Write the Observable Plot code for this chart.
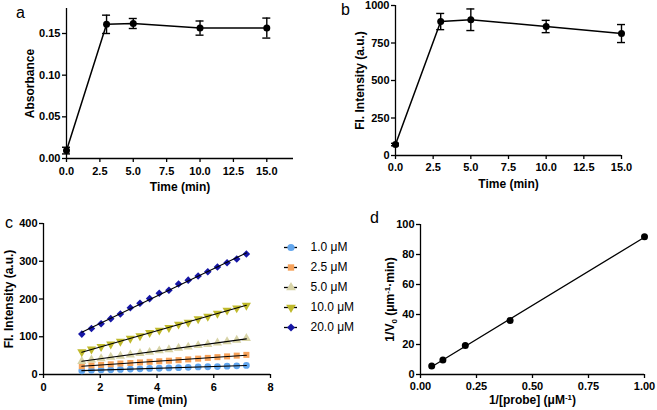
<!DOCTYPE html>
<html><head><meta charset="utf-8">
<script src="https://cdn.jsdelivr.net/npm/d3@7"></script>
<script src="https://cdn.jsdelivr.net/npm/@observablehq/plot@0.6"></script>
<style>
body{margin:0;background:#fff}
#wrap{position:relative;width:657px;height:410px;overflow:hidden;background:#fff;font-family:"Liberation Sans",Arial,sans-serif}
.panel{position:absolute}
.tag{position:absolute;font-size:16px;line-height:16px;color:#000;font-family:"Liberation Sans",Arial,sans-serif;z-index:5}
</style></head><body>
<div id="wrap">
  <div class="panel" id="pa" style="left:0;top:0"></div>
  <div class="panel" id="pb" style="left:330px;top:0"></div>
  <div class="panel" id="pc" style="left:0;top:200px"></div>
  <div class="panel" id="pleg" style="left:284px;top:230px"></div>
  <div class="panel" id="pd" style="left:330px;top:200px"></div>
  <div class="tag" style="left:16px;top:5px">a</div>
  <div class="tag" style="left:341px;top:2px">b</div>
  <div class="tag" style="left:5px;top:215px">c</div>
  <div class="tag" style="left:370px;top:210px">d</div>
</div>
<script>
// ---- data: panels a & b ----
const timeAB = [0, 3, 5, 10, 15];
const absMean = [0.0095, 0.161, 0.162, 0.1565, 0.1565];
const absErr = [0.004, 0.011, 0.006, 0.0085, 0.012];
const flMean = [73, 893, 905, 860, 813];
const flErr = [8, 54, 72, 41, 60];
const xTicksAB = [0, 2.5, 5, 7.5, 10, 12.5, 15];
const yTicksA = [0, 0.05, 0.10, 0.15];
const yTicksB = [0, 250, 500, 750, 1000];

// ---- data: panel c ----
const timeC = [1.35, 1.69, 2.03, 2.37, 2.71, 3.06, 3.40, 3.74, 4.08, 4.42, 4.76, 5.10, 5.45, 5.79, 6.13, 6.47, 6.81, 7.15];
const concLabels = ["1.0 μM", "2.5 μM", "5.0 μM", "10.0 μM", "20.0 μM"];
const fl_1_0 = [10, 11, 12, 12.5, 13.5, 14.5, 15, 16, 16.5, 17.5, 18, 19, 20, 20.5, 21, 22, 23, 24];
const fl_2_5 = [22, 24, 25.5, 27, 29, 30.5, 32, 33.5, 35, 36.5, 38, 40, 42, 44, 46, 48, 50, 52];
const fl_5_0 = [35, 39, 42, 46, 49, 52, 56, 59, 63, 66, 70, 73, 77, 80, 84, 87, 91, 96];
const fl_10_0 = [60, 67, 73.5, 80.5, 87.6, 95.6, 102, 110.6, 117, 124, 133, 138, 147, 154, 162, 170, 176, 183];
const fl_20_0 = [107, 122, 134.5, 148, 160, 177, 189, 201, 215, 223, 240, 250, 261, 272, 285, 296, 306, 319];
const xTicksC = [0, 2, 4, 6, 8];
const yTicksC = [0, 100, 200, 300, 400];
const concColors = ["#62a6ee", "#f7a25a", "#d7d3a6", "#c0ba2c", "#1616a6"];

// ---- data: panel d ----
const invProbe = [0.05, 0.1, 0.2, 0.4, 1.0];
const invV0 = [5.6, 9.6, 19.3, 36.0, 91.8];
const xTicksD = [0, 0.25, 0.5, 0.75, 1.0];
const yTicksD = [0, 20, 40, 60, 80, 100];

// ---- helpers ----
const triangleDown = {
  draw(context, size) {
    const y = -Math.sqrt(size / (Math.sqrt(3) * 3));
    context.moveTo(0, -y * 2);
    context.lineTo(-Math.sqrt(3) * y, y);
    context.lineTo(Math.sqrt(3) * y, y);
    context.closePath();
  }
};
const concSymbols = ["circle", "square", "triangle", triangleDown, "diamond2"];

const FONT = '"Liberation Sans", Arial, sans-serif';
const baseStyle = {fontFamily: FONT, fontSize: "11px", fontWeight: "bold", color: "#000", background: "transparent", overflow: "visible"};
const AX = 1.3;

function axes(xt, xf, yt, yf, padX) {
  return [
    Plot.ruleY([0], {stroke: "#000", strokeWidth: AX}),
    Plot.ruleX([0], {stroke: "#000", strokeWidth: AX}),
    Plot.axisX({ticks: xt, tickFormat: xf, tickSize: 4, tickPadding: padX, label: null, strokeWidth: AX}),
    Plot.axisY({ticks: yt, tickFormat: yf, tickSize: 4, tickPadding: 2, label: null, strokeWidth: AX})
  ];
}
function ylab(text, dx) {
  return Plot.text([text], {text: d => d, frameAnchor: "left", dx, rotate: -90, textAnchor: "middle", lineAnchor: "middle", fontSize: 12, fontWeight: "bold"});
}
function xlab(text, dy) {
  return Plot.text([text], {text: d => d, frameAnchor: "bottom", dy, textAnchor: "middle", lineAnchor: "middle", fontSize: 12, fontWeight: "bold"});
}
function errMarks(rows) {
  return [
    Plot.ruleX(rows, {x: "t", y1: "lo", y2: "hi", stroke: "#000", strokeWidth: 1.4}),
    Plot.ruleY(rows, {x1: "t", x2: "t", y: "hi", insetLeft: -4, insetRight: -4, stroke: "#000", strokeWidth: 1.4}),
    Plot.ruleY(rows, {x1: "t", x2: "t", y: "lo", insetLeft: -4, insetRight: -4, stroke: "#000", strokeWidth: 1.4}),
    Plot.line(rows, {x: "t", y: "m", stroke: "#000", strokeWidth: 1.5}),
    Plot.dot(rows, {x: "t", y: "m", r: 3.5, fill: "#000"})
  ];
}

// ---- panel a ----
const rowsA = timeAB.map((t, i) => ({t, m: absMean[i], lo: absMean[i] - absErr[i], hi: absMean[i] + absErr[i]}));
const plotA = Plot.plot({
  width: 330, height: 200, marginLeft: 66, marginRight: 37, marginTop: 8, marginBottom: 42,
  x: {domain: [0, 17]}, y: {domain: [0, 0.18]},
  style: baseStyle,
  marks: [
    ...axes(xTicksAB, d3.format(".1f"), yTicksA, d3.format(".2f"), 5),
    ...errMarks(rowsA),
    ylab("Absorbance", -36.5),
    xlab("Time (min)", 29)
  ]
});
document.getElementById("pa").appendChild(plotA);

// ---- panel b ----
const rowsB = timeAB.map((t, i) => ({t, m: flMean[i], lo: flMean[i] - flErr[i], hi: flMean[i] + flErr[i]}));
const plotB = Plot.plot({
  width: 327, height: 200, marginLeft: 65, marginRight: 36, marginTop: 5, marginBottom: 45,
  x: {domain: [0, 15]}, y: {domain: [0, 1000]},
  style: baseStyle,
  marks: [
    ...axes(xTicksAB, d3.format(".1f"), yTicksB, d3.format("d"), 4),
    ...errMarks(rowsB),
    ylab("Fl. Intensity (a.u.)", -35),
    xlab("Time (min)", 29)
  ]
});
document.getElementById("pb").appendChild(plotB);

// ---- panel c ----
const seriesC = [fl_1_0, fl_2_5, fl_5_0, fl_10_0, fl_20_0];
const rowsC = concLabels.flatMap((c, j) => timeC.map((t, i) => ({t, v: seriesC[j][i], c})));
const plotC = Plot.plot({
  width: 330, height: 210, marginLeft: 43, marginRight: 60, marginTop: 23, marginBottom: 36,
  x: {domain: [0, 8]}, y: {domain: [0, 400]},
  color: {domain: concLabels, range: concColors},
  symbol: {domain: concLabels, range: concSymbols},
  style: baseStyle,
  marks: [
    ...axes(xTicksC, d3.format("d"), yTicksC, d3.format("d"), 5),
    Plot.dot(rowsC, {x: "t", y: "v", fill: "c", symbol: "c", r: 3.4}),
    Plot.linearRegressionY(rowsC, {x: "t", y: "v", z: "c", stroke: "#000", strokeWidth: 1.1, ci: 0}),
    ylab("Fl. Intensity (a.u.)", -34),
    xlab("Time (min)", 26)
  ]
});
document.getElementById("pc").appendChild(plotC);

// ---- legend for panel c ----
const plotLeg = Plot.plot({
  width: 90, height: 110, marginLeft: 0, marginRight: 77, marginTop: 15.7, marginBottom: 11.7,
  x: {axis: null}, y: {type: "point", domain: concLabels, padding: 0, axis: null},
  color: {domain: concLabels, range: concColors},
  symbol: {domain: concLabels, range: concSymbols},
  style: {...baseStyle, fontWeight: "normal", fontSize: "12px"},
  marks: [
    Plot.ruleY(concLabels, {y: d => d, stroke: "#000", strokeWidth: 1.3}),
    Plot.dot(concLabels, {y: d => d, fill: d => d, symbol: d => d, r: 3.6, frameAnchor: "middle"}),
    Plot.text(concLabels, {y: d => d, text: d => d, frameAnchor: "right", dx: 13, textAnchor: "start", fontSize: 12, fontWeight: "normal"})
  ]
});
document.getElementById("pleg").appendChild(plotLeg);

// ---- panel d ----
const yLabelD = "1/V0 (μm-1·min)";
const xLabelD = "1/[probe] (μM-1)";
const rowsD = invProbe.map((x, i) => ({x, y: invV0[i]}));
const plotD = Plot.plot({
  width: 327, height: 210, marginLeft: 90, marginRight: 13, marginTop: 24, marginBottom: 36,
  x: {domain: [0, 1]}, y: {domain: [0, 100]},
  style: baseStyle,
  marks: [
    ...axes(xTicksD, d3.format(".2f"), yTicksD, d3.format("d"), 4),
    Plot.linearRegressionY(rowsD, {x: "x", y: "y", stroke: "#000", strokeWidth: 1.3, ci: 0}),
    Plot.dot(rowsD, {x: "x", y: "y", r: 3.5, fill: "#000"}),
    ylab(yLabelD, -30),
    xlab(xLabelD, 26)
  ]
});
document.getElementById("pd").appendChild(plotD);

// rich text (subscript / superscript) for panel d labels
function rich(svg, label, parts) {
  const t = d3.select(svg).selectAll("text").filter(function() { return this.textContent === label; });
  if (t.empty()) return;
  t.text(null);
  let shift = 0;
  parts.forEach(([s, kind]) => {
    const target = kind === "sub" ? 3 : kind === "sup" ? -4 : 0;
    const ts = t.append("tspan").text(s).attr("dy", target - shift);
    if (kind) ts.attr("font-size", "8px");
    shift = target;
  });
}
rich(plotD, yLabelD, [["1/V"], ["0", "sub"], [" (μm"], ["-1", "sup"], ["·min)"]]);
rich(plotD, xLabelD, [["1/[probe] (μM"], ["-1", "sup"], [")"]]);
</script>
</body></html>
